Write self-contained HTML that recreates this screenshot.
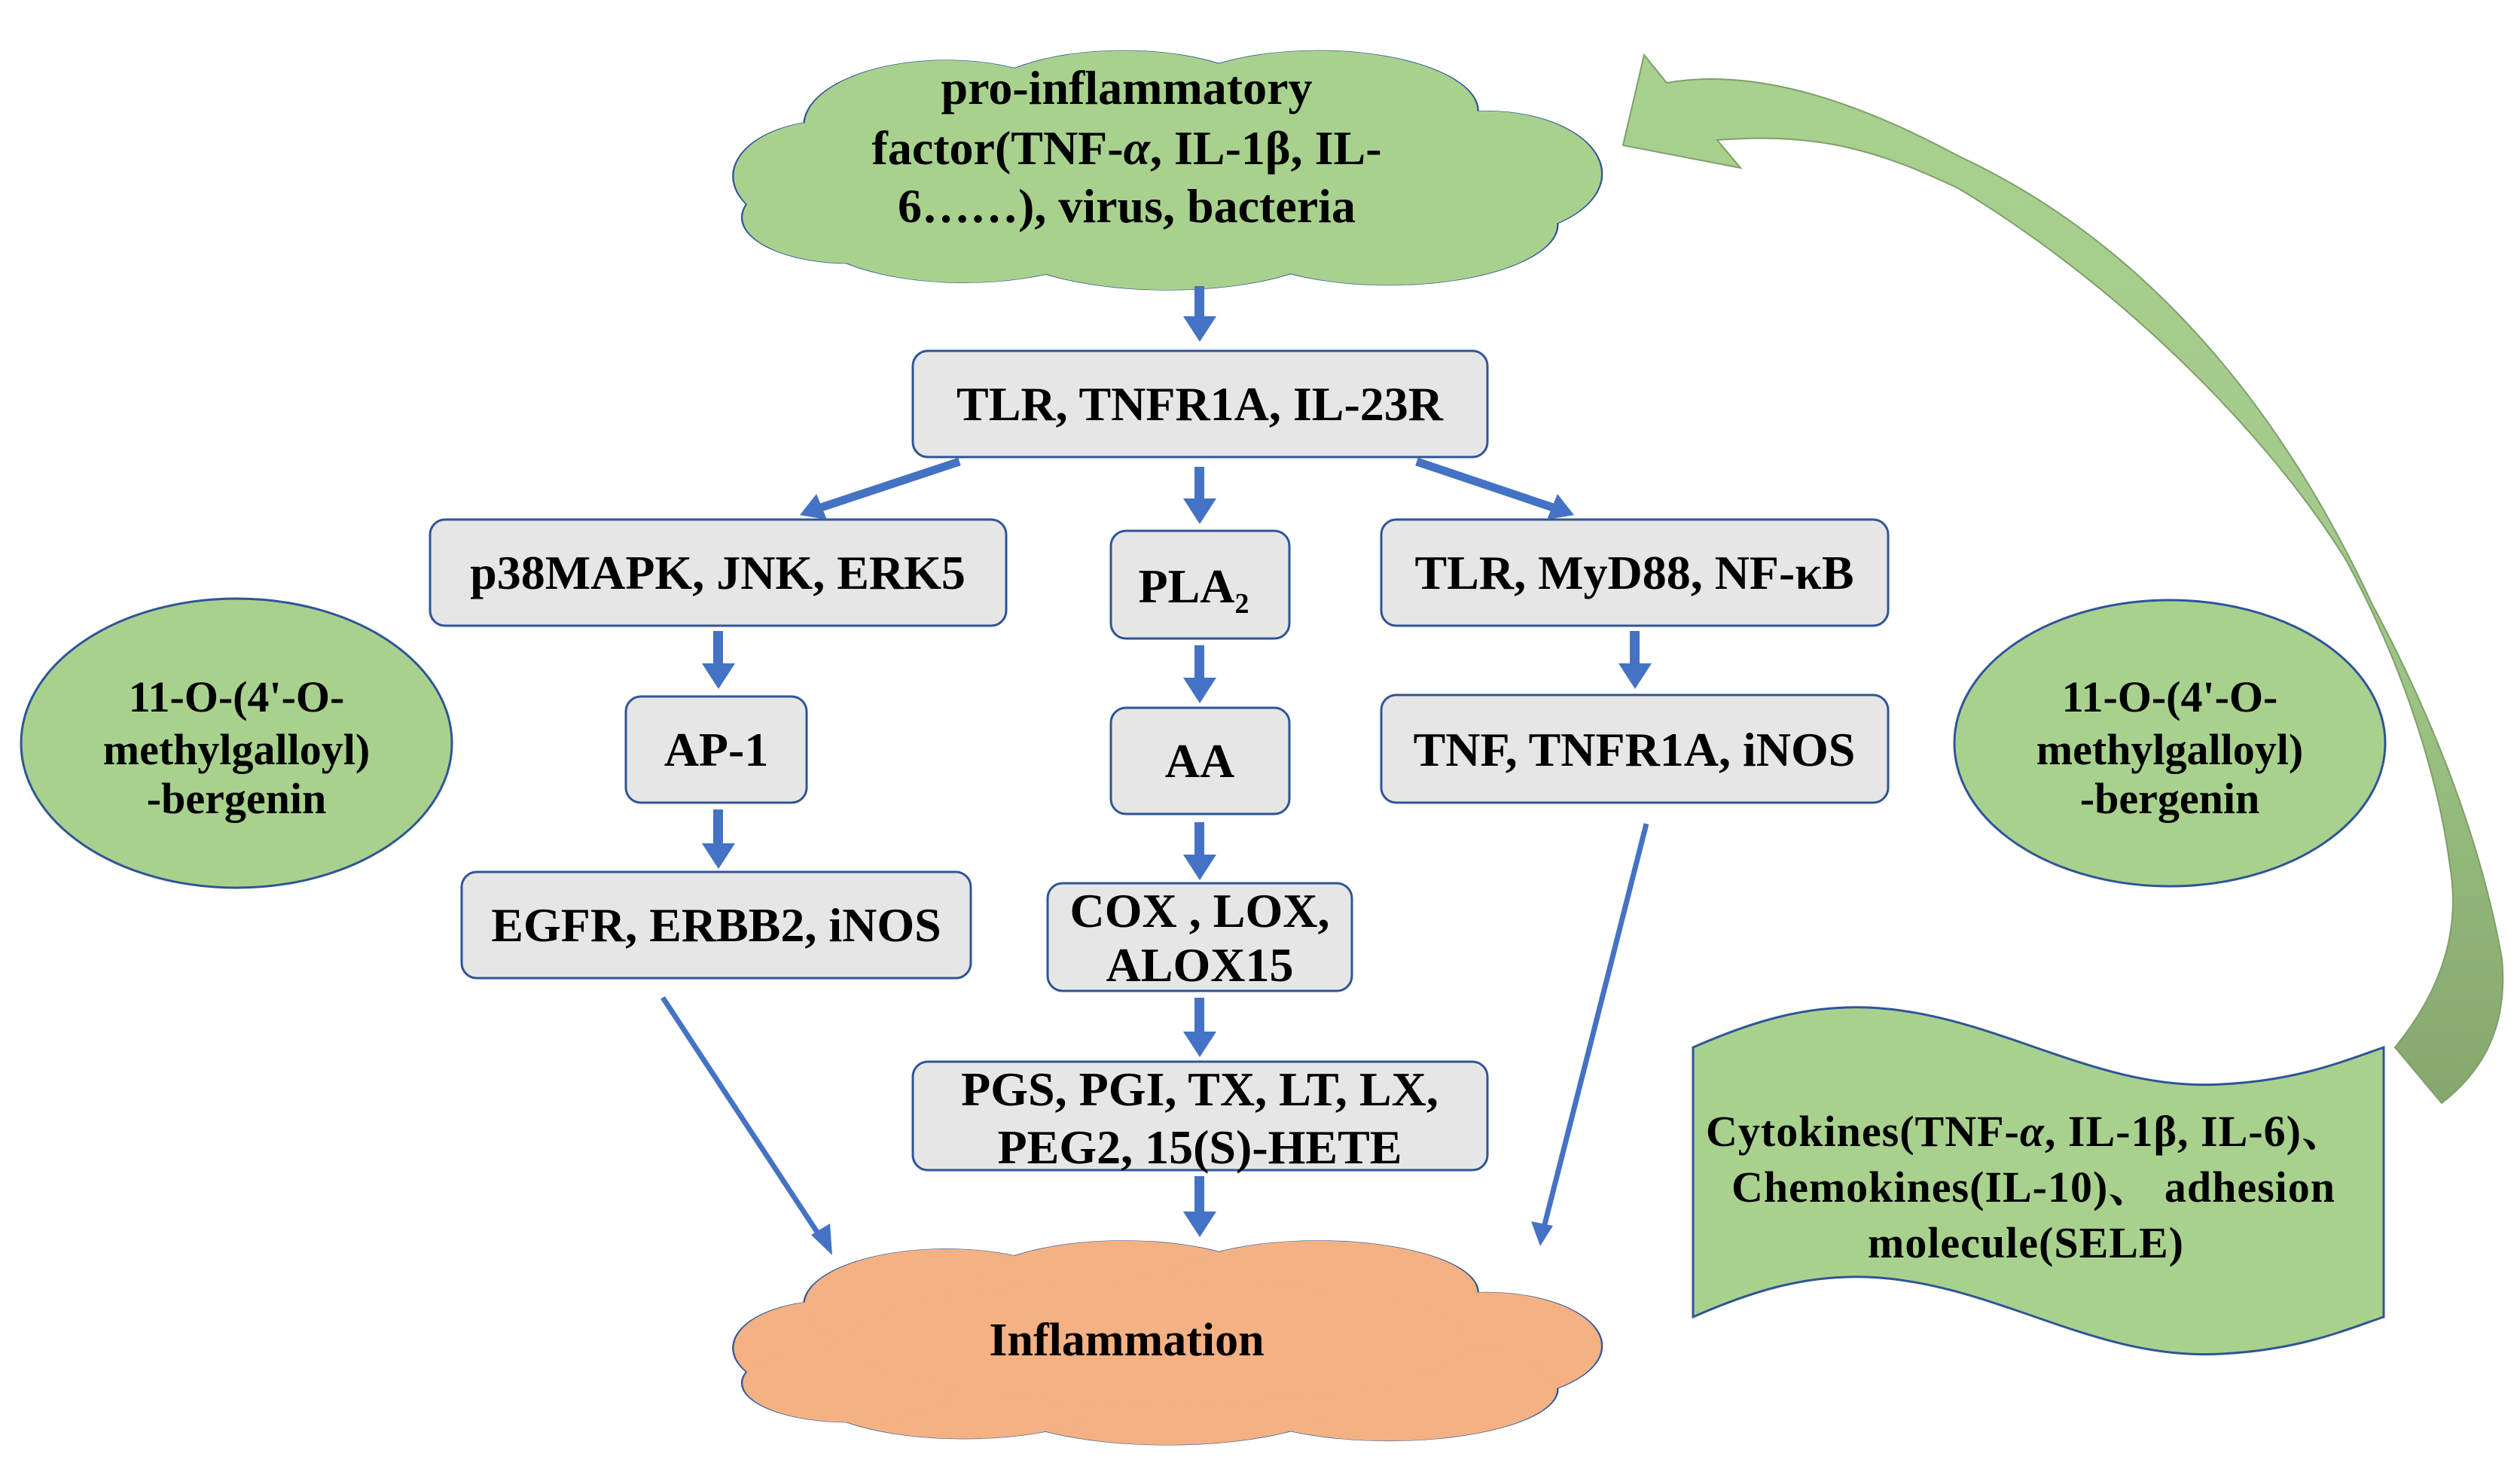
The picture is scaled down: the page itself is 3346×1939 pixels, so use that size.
<!DOCTYPE html>
<html><head><meta charset="utf-8"><style>
html,body{margin:0;padding:0;background:#fff;}
svg{display:block;}
</style></head><body>
<svg width="3346" height="1939" viewBox="0 0 3346 1939" xmlns="http://www.w3.org/2000/svg">
<defs>
<g id="cl">
<ellipse cx="130" cy="530" rx="110" ry="230"/>
<ellipse cx="260" cy="320" rx="160" ry="270"/>
<ellipse cx="460" cy="250" rx="170" ry="240"/>
<ellipse cx="680" cy="260" rx="180" ry="250"/>
<ellipse cx="870" cy="520" rx="130" ry="260"/>
<ellipse cx="760" cy="730" rx="190" ry="250"/>
<ellipse cx="510" cy="760" rx="200" ry="240"/>
<ellipse cx="280" cy="720" rx="180" ry="250"/>
<ellipse cx="150" cy="700" rx="120" ry="190"/>
<ellipse cx="500" cy="500" rx="350" ry="300"/>
</g>
<linearGradient id="ag" x1="0" y1="0" x2="0" y2="1">
<stop offset="0" stop-color="#a9d18e"/><stop offset="0.5" stop-color="#a2c98a"/><stop offset="1" stop-color="#85a86c"/>
</linearGradient>
</defs>

<g transform="translate(951,64) scale(1.175,0.321)">
<use href="#cl" fill="#a9d18e" stroke="#2f5597" style="stroke-width:4px"/>
<use href="#cl" fill="#a9d18e"/>
</g>
<g transform="translate(951,1645) scale(1.175,0.274)">
<use href="#cl" fill="#f4b183" stroke="#2f5597" style="stroke-width:4px"/>
<use href="#cl" fill="#f4b183"/>
</g>

<g fill="#e7e6e6" stroke="#2f5597" stroke-width="3">
<rect x="1212" y="466" width="763" height="141" rx="20"/>
<rect x="571" y="690" width="765" height="141" rx="20"/>
<rect x="1475" y="705" width="237" height="143" rx="20"/>
<rect x="1834" y="690" width="673" height="141" rx="20"/>
<rect x="831" y="925" width="240" height="141" rx="20"/>
<rect x="1475" y="940" width="237" height="141" rx="20"/>
<rect x="1834" y="923" width="673" height="143" rx="20"/>
<rect x="613" y="1158" width="676" height="141" rx="20"/>
<rect x="1391" y="1173" width="404" height="143" rx="20"/>
<rect x="1212" y="1410" width="763" height="144" rx="20"/>
</g>

<g fill="#4472c4">
<path d="M1586,380 h13 v40 h16 l-22,34 l-22,-34 h15 z"/>
<path d="M1586,620 h13 v42 h16 l-22,34 l-22,-34 h15 z"/>
<path d="M1586,857 h13 v43 h16 l-22,34 l-22,-34 h15 z"/>
<path d="M1586,1092 h13 v43 h16 l-22,34 l-22,-34 h15 z"/>
<path d="M1586,1325 h13 v45 h16 l-22,34 l-22,-34 h15 z"/>
<path d="M1586,1562 h13 v47 h16 l-22,34 l-22,-34 h15 z"/>
<path d="M947,838 h13 v43 h16 l-22,34 l-22,-34 h15 z"/>
<path d="M947,1075 h13 v45 h16 l-22,34 l-22,-34 h15 z"/>
<path d="M2164,838 h13 v43 h16 l-22,34 l-22,-34 h15 z"/>
</g>
<g stroke="#4472c4" stroke-width="11" fill="none">
<line x1="1274" y1="613" x2="1090" y2="674"/>
<line x1="1881" y1="613" x2="2062" y2="674"/>
</g>
<path d="M1062,684 L1084,656 L1098,690 Z" fill="#4472c4"/>
<path d="M2090,684 L2068,656 L2054,690 Z" fill="#4472c4"/>
<g stroke="#4472c4" stroke-width="7" fill="none">
<line x1="880" y1="1325" x2="1092" y2="1647"/>
<line x1="2186" y1="1094" x2="2050" y2="1630"/>
</g>
<path d="M1105,1667 L1077,1640 L1102,1625 Z" fill="#4472c4"/>
<path d="M2045,1655 L2033,1622 L2062,1628 Z" fill="#4472c4"/>

<ellipse cx="314" cy="987" rx="286" ry="192" fill="#a9d18e" stroke="#2f5597" stroke-width="3"/>
<ellipse cx="2881" cy="987" rx="286" ry="190" fill="#a9d18e" stroke="#2f5597" stroke-width="3"/>

<path d="M2155,193 L2183,73 L2213,110 C2300,95 2420,110 2600,207 C2800,300 3000,480 3150,803 C3250,990 3300,1150 3322,1273 C3330,1360 3300,1420 3242,1465 L3180,1391 C3230,1330 3270,1250 3253,1150 C3240,1050 3200,900 3114,742 C3000,560 2800,370 2600,250 C2500,203 2420,175 2280,186 L2311,223 Z" fill="url(#ag)" stroke="#7f9f6a" stroke-width="2"/>

<path d="M2248,1391 C2330,1355 2400,1335 2480,1338 C2650,1345 2780,1450 2950,1440 C3050,1435 3110,1410 3165,1391 L3165,1749 C3110,1768 3050,1793 2950,1798 C2780,1808 2650,1703 2480,1696 C2400,1693 2330,1713 2248,1749 Z" fill="#a9d18e" stroke="#2f5597" stroke-width="3"/>

<g font-family="'Liberation Serif', 'Times New Roman', Times, serif" font-weight="bold" fill="#000" text-anchor="middle">
<g font-size="64">
<text x="1496" y="138">pro-inflammatory</text>
<text x="1496" y="218">factor(TNF-<tspan font-style="italic">α</tspan>, IL-1β, IL-</text>
<text x="1496" y="295">6……), virus, bacteria</text>
<text x="1496" y="1800" font-size="62">Inflammation</text>
<text x="1593" y="558">TLR, TNFR1A, IL-23R</text>
<text x="953" y="782">p38MAPK, JNK, ERK5</text>
<text x="1585" y="800">PLA<tspan font-size="38" dy="14">2</tspan></text>
<text x="2170" y="782">TLR, MyD88, NF-κB</text>
<text x="951" y="1017">AP-1</text>
<text x="1593" y="1032">AA</text>
<text x="2170" y="1017">TNF, TNFR1A, iNOS</text>
<text x="951" y="1250">EGFR, ERBB2, iNOS</text>
<text x="1593" y="1231">COX , LOX,</text>
<text x="1593" y="1303">ALOX15</text>
<text x="1593" y="1468">PGS, PGI, TX, LT, LX,</text>
<text x="1593" y="1545">PEG2, 15(S)-HETE</text>
</g>
<g font-size="58">
<text x="314" y="945">11-O-(4'-O-</text>
<text x="314" y="1015">methylgalloyl)</text>
<text x="314" y="1080">-bergenin</text>
<text x="2881" y="945">11-O-(4'-O-</text>
<text x="2881" y="1015">methylgalloyl)</text>
<text x="2881" y="1080">-bergenin</text>
</g>
<g font-size="58" letter-spacing="1">
<text x="2690" y="1522">Cytokines(TNF-<tspan font-style="italic">α</tspan>, IL-1β, IL-6)<tspan font-family="'Noto Serif CJK SC', serif">、</tspan></text>
<text x="2700" y="1596">Chemokines(IL-10)<tspan font-family="'Noto Serif CJK SC', serif">、</tspan> adhesion</text>
<text x="2690" y="1670">molecule(SELE)</text>
</g>
</g>
</svg>
</body></html>
